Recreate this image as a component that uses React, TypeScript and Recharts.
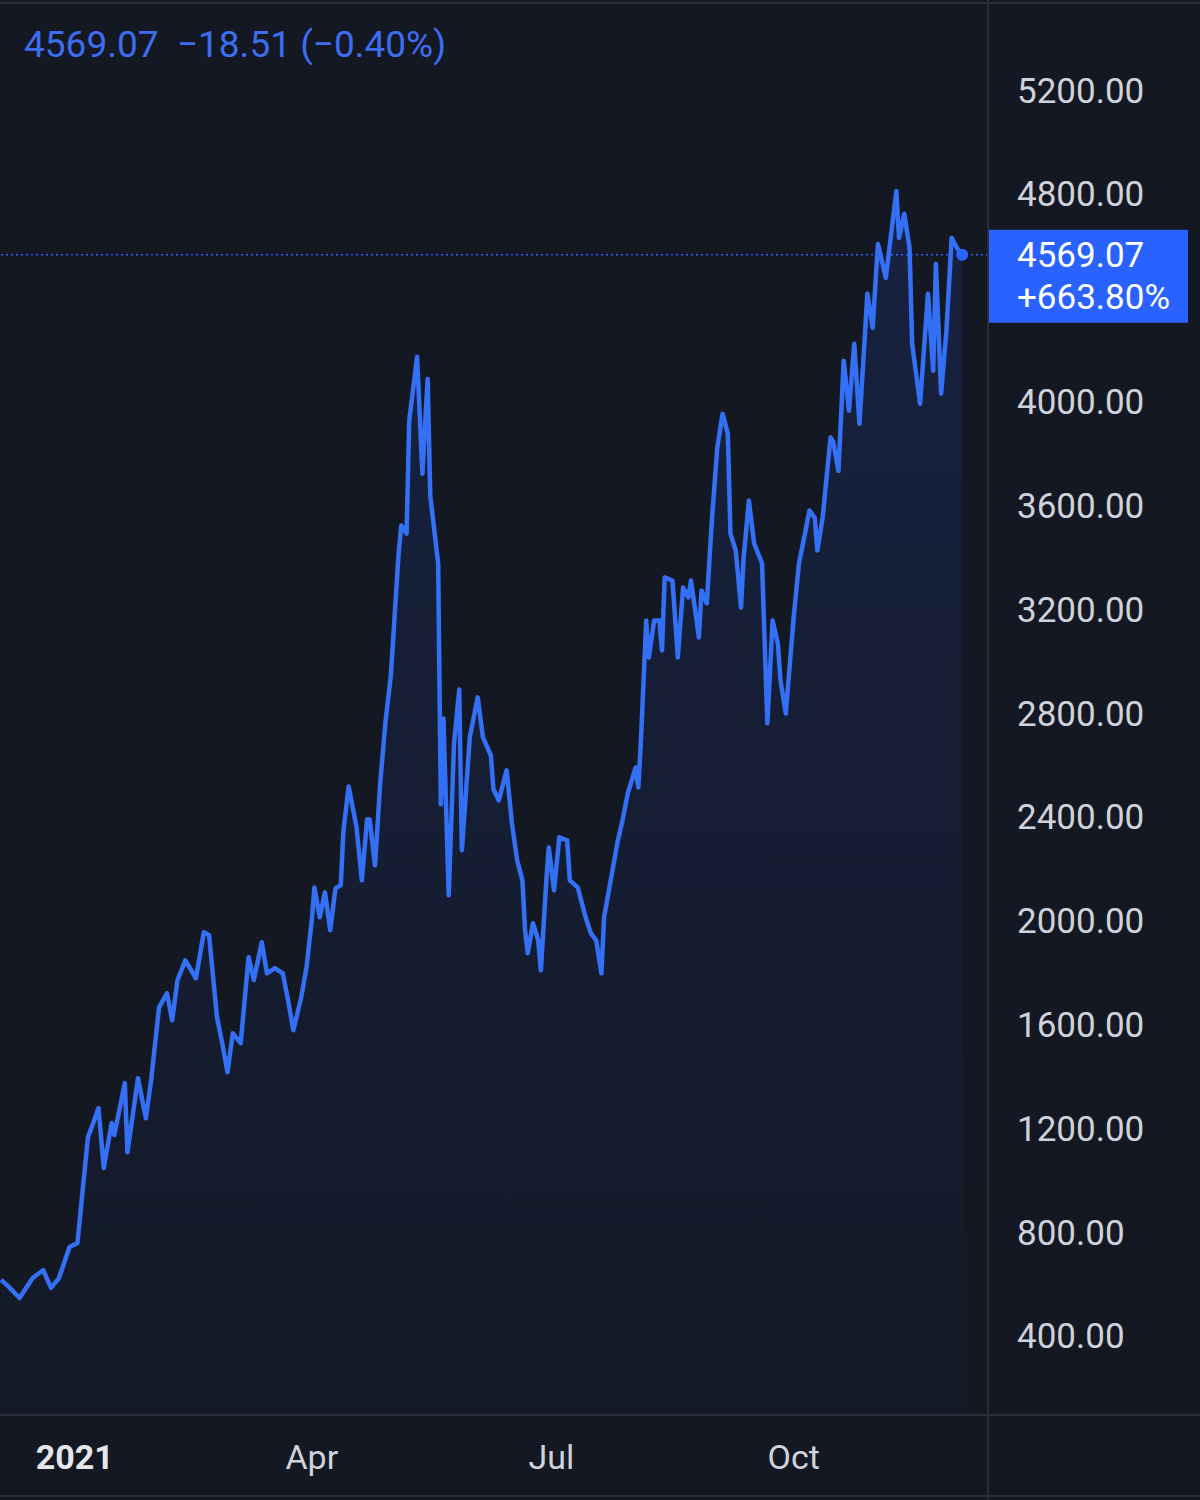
import {
  Area,
  ComposedChart,
  ReferenceDot,
  ReferenceLine,
  XAxis,
  YAxis,
} from "recharts";

// day offset from 2021-01-01
const days = [
  -28, -25, -21, -19, -16, -12, -9, -6, -2, 1, 3, 5, 7, 9, 11, 14, 15, 19, 20, 24,
  27, 29, 32, 35, 37, 39, 42, 46, 49, 51, 54, 56, 58, 60, 63, 66, 68, 71, 73, 76,
  79, 81, 83, 86, 88, 90, 91, 93, 95, 97, 99, 101, 102, 104, 107, 109, 111, 112, 114, 116,
  118, 120, 122, 123, 124, 126, 127, 130, 132, 134, 135, 138, 139, 140, 142, 144, 146, 147, 150, 153,
  155, 158, 159, 161, 164, 166, 168, 170, 171, 172, 174, 176, 177, 179, 180, 182, 184, 187, 188, 191,
  194, 196, 198, 200, 201, 204, 206, 208, 210, 213, 214, 215, 217, 218, 220, 222, 223, 224, 227, 229,
  231, 233, 234, 236, 237, 238, 240, 242, 244, 246, 248, 249, 251, 253, 254, 256, 258, 261, 263, 265,
  267, 268, 270, 273, 275, 277, 279, 281, 282, 284, 287, 288, 290, 292, 294, 296, 298, 301, 303, 305,
  308, 312, 313, 315, 317, 318, 321, 324, 326, 327, 329, 331, 333, 335, 337,
];

const prices = [
  620, 593, 550, 581, 627, 658, 589, 627, 747, 762, 966, 1170, 1224, 1282, 1051, 1224, 1178, 1378, 1112, 1397,
  1243, 1390, 1670, 1724, 1620, 1775, 1851, 1782, 1959, 1948, 1632, 1532, 1420, 1570, 1532, 1863, 1775, 1921, 1801, 1821,
  1801, 1697, 1582, 1709, 1824, 2005, 2132, 2017, 2113, 1967, 2129, 2140, 2348, 2521, 2363, 2159, 2394, 2394, 2217, 2537,
  2771, 2945, 3264, 3422, 3526, 3495, 3930, 4176, 3726, 4091, 3641, 3380, 2452, 2783, 2102, 2683, 2894, 2275, 2710, 2864,
  2710, 2641, 2510, 2467, 2583, 2379, 2236, 2159, 1967, 1878, 1994, 1928, 1813, 2148, 2286, 2121, 2325, 2313, 2159, 2132,
  2017, 1955, 1928, 1801, 2017, 2186, 2302, 2390, 2494, 2594, 2517, 2698, 3160, 3018, 3160, 3160, 3045, 3326, 3314, 3018,
  3287, 3249, 3314, 3172, 3095, 3276, 3226, 3556, 3826, 3957, 3880, 3495, 3430, 3210, 3403, 3622, 3457, 3380, 2764, 3160,
  3072, 2929, 2802, 3172, 3380, 3480, 3584, 3556, 3430, 3556, 3865, 3850, 3737, 4161, 3969, 4226, 3918, 4419, 4288, 4611,
  4480, 4815, 4634, 4727, 4596, 4226, 3995, 4419, 4122, 4534, 4034, 4276, 4634, 4596, 4569.07,
];

const priceTicks = [400, 800, 1200, 1600, 2000, 2400, 2800, 3200, 3600, 4000, 4800, 5200];
const monthTicks = [0, 90, 181, 273];
const monthLabels = ["2021", "Apr", "Jul", "Oct"];

const lastPrice = 4569.07;
const dayChange = "−18.51 (−0.40%)";
const totalChange = "+663.80%";

const data = days.map((d, i) => ({ day: d, price: prices[i] }));

const BG = "#141823";
const LINE = "#3470f5";
const TEXT = "#cfd2da";
const FONT = "Roboto, 'Noto Sans', sans-serif";

function PriceTick(props: any) {
  const { x, y, payload } = props;
  return (
    <text
      x={x + 29}
      y={y}
      fill={TEXT}
      fontSize={35}
      fontFamily={FONT}
      textAnchor="start"
      dominantBaseline="central"
    >
      {payload.value.toFixed(2)}
    </text>
  );
}

function MonthTick(props: any) {
  const { x, y, payload, index } = props;
  return (
    <text
      x={x}
      y={y + 42}
      fill={index === 0 ? "#e4e6eb" : TEXT}
      fontSize={34}
      fontWeight={index === 0 ? 700 : 400}
      fontFamily={FONT}
      textAnchor="middle"
      dominantBaseline="central"
    >
      {monthLabels[monthTicks.indexOf(payload.value)]}
    </text>
  );
}

function PriceTag(props: any) {
  const { x, width, y } = props.viewBox;
  const left = x + width;
  return (
    <g>
      <rect x={left} y={y - 25} width={200} height={93} fill="#2962ff" />
      <text x={left + 29} y={y + 1} fill="#ffffff" fontSize={35} fontFamily={FONT} dominantBaseline="central">
        {lastPrice.toFixed(2)}
      </text>
      <text x={left + 29} y={y + 43} fill="#ffffff" fontSize={35} fontFamily={FONT} dominantBaseline="central">
        {totalChange}
      </text>
    </g>
  );
}

export default function App() {
  return (
    <div style={{ position: "relative", width: 1200, height: 1500, background: BG, fontFamily: FONT }}>
      <style>{"body{margin:0}"}</style>
      <ComposedChart width={1200} height={1500} data={data} margin={{ top: 0, right: 0, bottom: 0, left: 0 }}>
        <defs>
          <linearGradient id="ethFill" x1="0" y1="0" x2="0" y2="1">
            <stop offset="0%" stopColor="#2962ff" stopOpacity={0.22} />
            <stop offset="100%" stopColor="#2962ff" stopOpacity={0.03} />
          </linearGradient>
        </defs>
        <XAxis
          dataKey="day"
          type="number"
          domain={[-28.4, 346.8]}
          ticks={monthTicks}
          tick={<MonthTick />}
          height={85}
          axisLine={false}
          tickLine={false}
          tickSize={0}
          tickMargin={0}
          allowDataOverflow
        />
        <YAxis
          orientation="right"
          domain={[99.5, 5550.6]}
          ticks={priceTicks}
          tick={<PriceTick />}
          width={212}
          axisLine={false}
          tickLine={false}
          tickSize={0}
          tickMargin={0}
          allowDataOverflow
        />
        <Area
          type="linear"
          dataKey="price"
          stroke={LINE}
          strokeWidth={4.5}
          strokeLinejoin="round"
          fill="url(#ethFill)"
          isAnimationActive={false}
          dot={false}
          activeDot={false}
        />
        <ReferenceLine
          y={lastPrice}
          stroke="#2962ff"
          strokeDasharray="2 3"
          strokeWidth={1.5}
          label={(p: any) => <PriceTag {...p} />}
        />
        <ReferenceDot x={337} y={lastPrice} r={6} fill="#2962ff" stroke="none" />
      </ComposedChart>
      <div style={{ position: "absolute", left: 0, top: 2, width: 1200, height: 2, background: "#2a2e39" }} />
      <div style={{ position: "absolute", left: 0, top: 1414, width: 1200, height: 2, background: "#2a2e39" }} />
      <div style={{ position: "absolute", left: 0, top: 1495, width: 1200, height: 2, background: "#2a2e39" }} />
      <div style={{ position: "absolute", left: 987, top: 0, width: 2, height: 1500, background: "#2a2e39" }} />
      <div
        style={{
          position: "absolute",
          left: 24,
          top: 26,
          fontSize: 37,
          lineHeight: 1,
          color: "#3d6df0",
          whiteSpace: "pre",
        }}
      >
        {`${lastPrice.toFixed(2)}  ${dayChange}`}
      </div>
    </div>
  );
}
